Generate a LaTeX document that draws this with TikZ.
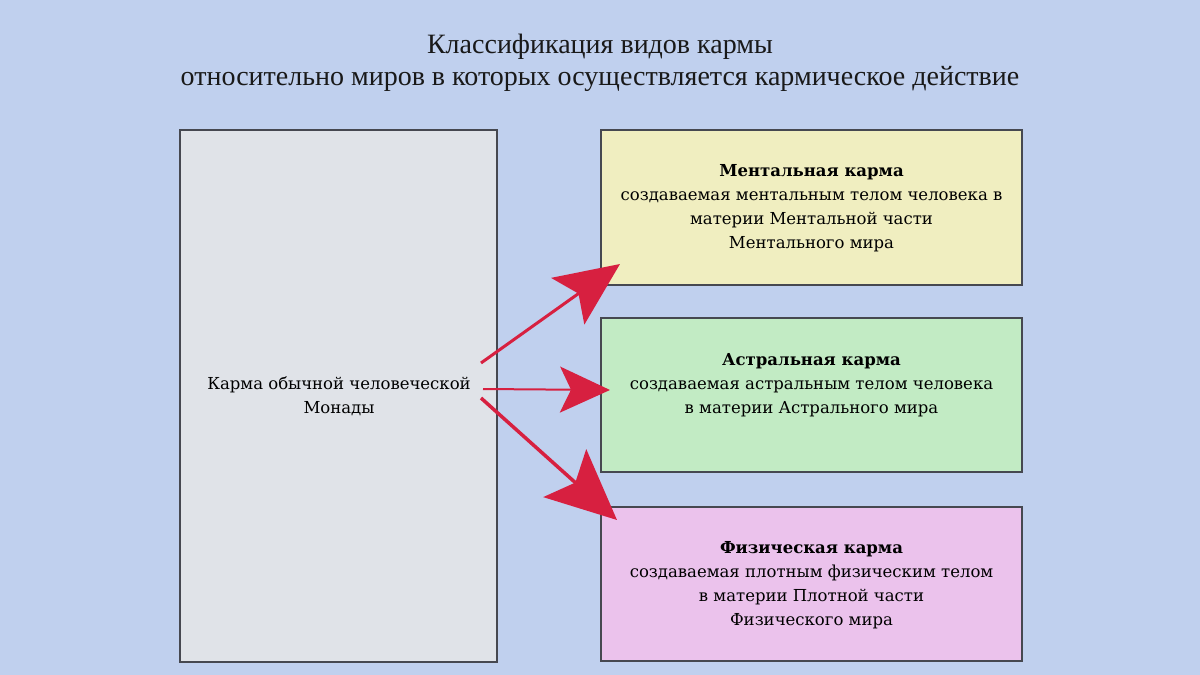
\documentclass[tikz,border=0pt]{standalone}
\usepackage{fontspec}
\setmainfont{DejaVu Serif}
\newfontfamily\titlefont{Liberation Serif}
\usetikzlibrary{arrows.meta}
\definecolor{bg}{RGB}{192,208,238}
\definecolor{leftfill}{RGB}{224,227,232}
\definecolor{yel}{RGB}{240,238,192}
\definecolor{grn}{RGB}{194,235,196}
\definecolor{pnk}{RGB}{235,194,236}
\definecolor{arr}{RGB}{215,32,64}
\definecolor{edge}{RGB}{70,72,80}
\tikzset{
  box/.style={draw=edge, line width=1.3pt, inner sep=0pt, outer sep=0pt},
  boxtext/.style={align=center, font=\fontsize{16.5}{24}\selectfont, text=black},
  ptr/.style={draw=arr, fill=arr},
}
\begin{document}
\begin{tikzpicture}[x=1pt,y=-1pt]
\fill[bg] (0,0) rectangle (1200,675);
\useasboundingbox (0,0) rectangle (1200,675);
% title
\node[font=\titlefont\fontsize{28}{32}\selectfont, align=center, text=black!90] (title) at (600,63)
  {Классификация видов кармы\\относительно миров в которых осуществляется кармическое действие};
% boxes
\draw[box, fill=leftfill] (180,130) rectangle (497,662);
\node[boxtext] (src) at (339,396) {Карма обычной человеческой\\Монады};
\draw[box, fill=yel] (601,130) rectangle (1022,285);
\node[boxtext] (ment) at (811.5,208) {\textbf{Ментальная карма}\\создаваемая ментальным телом человека в\\материи Ментальной части\\Ментального мира};
\draw[box, fill=grn] (601,318) rectangle (1022,472);
\node[boxtext] (astr) at (811.5,385) {\textbf{Астральная карма}\\создаваемая астральным телом человека\\в материи Астрального мира};
\draw[box, fill=pnk] (601,507) rectangle (1022,661);
\node[boxtext] (phys) at (811.5,585) {\textbf{Физическая карма}\\создаваемая плотным физическим телом\\в материи Плотной части\\Физического мира};
% arrows
\coordinate (s1) at (481,363);
\coordinate (e1) at (620,264);
\coordinate (s2) at (483,389);
\coordinate (e2) at (610,390);
\coordinate (s3) at (481,398);
\coordinate (e3) at (617,520);
\draw[ptr, line width=3pt, -{Stealth[length=64pt,width=57pt,inset=13pt]}] (s1) -- (e1);
\draw[ptr, line width=2pt, -{Stealth[length=50pt,width=46pt,inset=11pt]}] (s2) -- (e2);
\draw[ptr, line width=3.5pt, -{Stealth[length=70pt,width=64pt,inset=14pt]}] (s3) -- (e3);
\end{tikzpicture}
\end{document}
